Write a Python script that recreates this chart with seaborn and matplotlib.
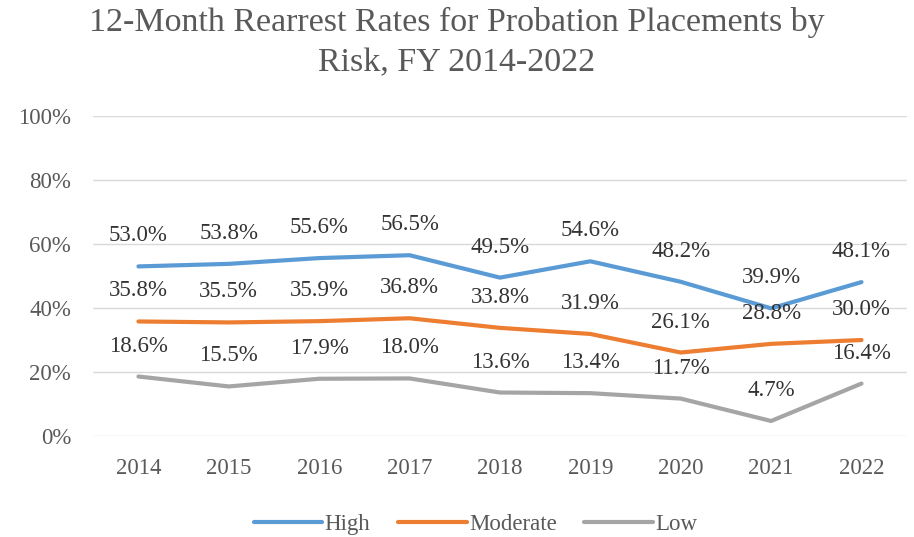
"""12-month rearrest rates for probation placements by risk level."""

import pandas as pd
import matplotlib.pyplot as plt
import seaborn as sns
from matplotlib.ticker import PercentFormatter

years = ["2014", "2015", "2016", "2017", "2018", "2019", "2020", "2021", "2022"]
high = [53.0, 53.8, 55.6, 56.5, 49.5, 54.6, 48.2, 39.9, 48.1]
moderate = [35.8, 35.5, 35.9, 36.8, 33.8, 31.9, 26.1, 28.8, 30.0]
low = [18.6, 15.5, 17.9, 18.0, 13.6, 13.4, 11.7, 4.7, 16.4]

series = {"High": high, "Moderate": moderate, "Low": low}
colors = {"High": "#5B9BD5", "Moderate": "#ED7D31", "Low": "#A5A5A5"}

df = pd.DataFrame(
    [(y, name, v) for name, vals in series.items() for y, v in zip(years, vals)],
    columns=["Year", "Risk", "Rate"],
)

sns.set_style("white")
plt.rcParams["font.family"] = ["Liberation Serif", "DejaVu Serif"]

fig = plt.figure(figsize=(9.14, 5.37), dpi=100)
ax = fig.add_axes([0.102, 0.188, 0.890, 0.596])

sns.lineplot(data=df, x="Year", y="Rate", hue="Risk", palette=colors,
             linewidth=3, ax=ax, legend=True, sort=False)

for name, vals in series.items():
    for i, v in enumerate(vals):
        ax.annotate(f"{v:.1f}%", (i, v), xytext=(0, 18), textcoords="offset points",
                    ha="center", va="baseline", fontsize=16.5, color="#333333")

ax.set_ylim(0, 100)
ax.set_xlim(-0.5, len(years) - 0.5)
ax.set_yticks(range(0, 101, 20))
ax.yaxis.set_major_formatter(PercentFormatter(decimals=0))
ax.grid(axis="y", color="#D9D9D9", linewidth=1)
ax.set_axisbelow(True)
for s in ax.spines.values():
    s.set_visible(False)
ax.tick_params(axis="both", length=0, labelsize=16.5, labelcolor="#595959", pad=16)
ax.set_xlabel("")
ax.set_ylabel("")

fig.suptitle("12-Month Rearrest Rates for Probation Placements by\nRisk, FY 2014-2022",
             fontsize=24.5, color="#595959", y=0.988, linespacing=1.42)

handles, labels = ax.get_legend_handles_labels()
ax.legend(handles, labels, loc="center", bbox_to_anchor=(0.47, -0.275), ncol=3,
          frameon=False, fontsize=16.5, labelcolor="#595959", handlelength=3.0,
          handletextpad=0.1, columnspacing=1.2)

plt.savefig("out.png", dpi=100)
plt.close()
print("Saved: out.png")
